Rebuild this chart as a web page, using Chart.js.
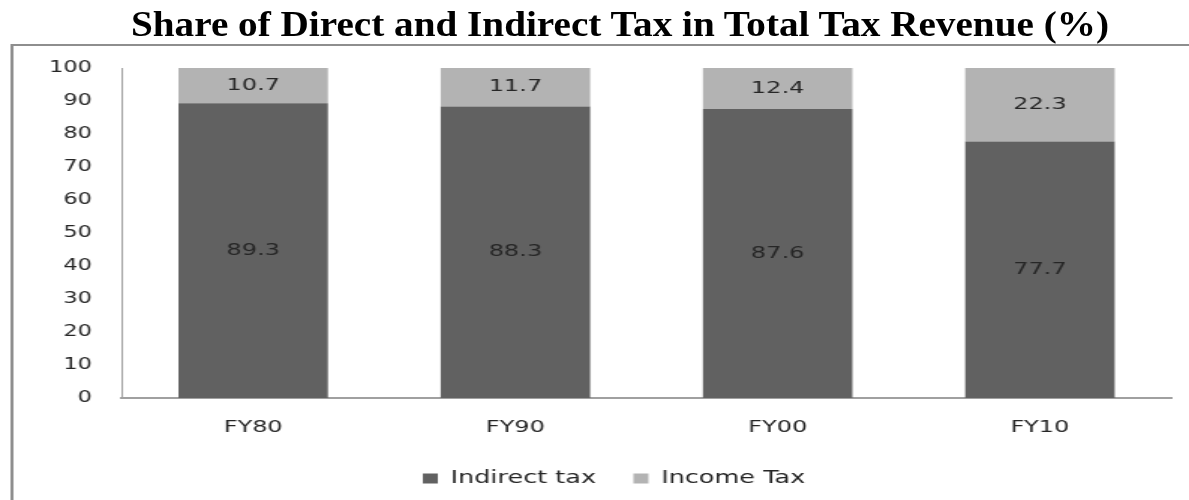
<!DOCTYPE html>
<html>
<head>
<meta charset="utf-8">
<title>Tax revenue shares</title>
<script src="https://cdn.jsdelivr.net/npm/chart.js@4/dist/chart.umd.min.js"></script>
<style>
  html, body { margin: 0; padding: 0; background: #fff; overflow: hidden; }
  #wrap { position: relative; width: 1189px; height: 500px; overflow: hidden; }
  #taxChart { position: absolute; left: 0; top: 0; }
  #heading {
    position: absolute; left: 0; top: 7px; width: 1240px;
    text-align: center; white-space: nowrap;
    font: bold 35px "Liberation Serif", serif; line-height: 35px; color: #000;
    transform: scaleX(1.12); transform-origin: 620px 0;
  }
</style>
</head>
<body>
<div id="wrap">
  <!-- the plot is drawn 793px wide and stretched out sideways to 1189px -->
  <canvas id="taxChart" width="793" height="500" style="width:1189px;height:500px"></canvas>
  <div id="heading">Share of Direct and Indirect Tax in Total Tax Revenue (%)</div>
</div>
<script>
const years = ['FY80', 'FY90', 'FY00', 'FY10'];
const indirectTax = [89.3, 88.3, 87.6, 77.7];
const incomeTax = [10.7, 11.7, 12.4, 22.3];

const darkGrey = '#616161';
const lightGrey = '#b3b3b3';

// white page plus the grey frame along the left and top
const frame = {
    id: 'frame',
    beforeDraw: (chart) => {
        const ctx = chart.ctx;
        ctx.save();
        ctx.fillStyle = '#fff';
        ctx.fillRect(0, 0, chart.width, chart.height);
        ctx.strokeStyle = '#8e8e8e';
        ctx.lineWidth = 2;
        ctx.beginPath();
        ctx.moveTo(8, chart.height + 5);
        ctx.lineTo(8, 45);
        ctx.lineTo(chart.width + 5, 45);
        ctx.stroke();
        ctx.restore();
    }
};

// legend sits a little right of the canvas centre
const legendShift = {
    id: 'legendShift',
    afterLayout: (chart) => {
        if (chart.legend) {
            chart.legend.left += 19;
            chart.legend.right += 19;
        }
    }
};

// value written in the middle of every bar segment
const barLabels = {
    id: 'barLabels',
    afterDatasetsDraw: (chart) => {
        const ctx = chart.ctx;
        ctx.save();
        ctx.font = '16px "DejaVu Sans"';
        ctx.fillStyle = '#262626';
        ctx.textAlign = 'center';
        ctx.textBaseline = 'middle';
        chart.data.datasets.forEach((ds, i) => {
            chart.getDatasetMeta(i).data.forEach((bar, j) => {
                const p = bar.getCenterPoint();
                ctx.fillText(ds.data[j].toFixed(1), p.x, p.y);
            });
        });
        ctx.restore();
    }
};

const ctx = document.getElementById('taxChart').getContext('2d');

new Chart(ctx, {
    type: 'bar',
    plugins: [frame, legendShift, barLabels],
    data: {
        labels: years,
        datasets: [{
            label: 'Indirect tax',
            data: indirectTax,
            backgroundColor: darkGrey,
            borderWidth: 0
        }, {
            label: 'Income Tax',
            data: incomeTax,
            backgroundColor: lightGrey,
            borderWidth: 0
        }]
    },
    options: {
        responsive: false,
        animation: false,
        devicePixelRatio: 1,
        layout: { padding: { top: 68, right: 12, bottom: 3, left: 0 } },
        datasets: { bar: { categoryPercentage: 1, barPercentage: 0.57 } },
        plugins: {
            title: { display: false },
            tooltip: { enabled: false },
            legend: {
                position: 'bottom',
                labels: {
                    boxWidth: 10,
                    boxHeight: 10,
                    padding: 25,
                    color: '#262626',
                    font: { family: 'DejaVu Sans', size: 17 }
                }
            }
        },
        scales: {
            x: {
                stacked: true,
                grid: { display: false, drawTicks: false },
                border: { display: true, color: '#a0a0a0', width: 2 },
                ticks: {
                    padding: 20,
                    color: '#262626',
                    font: { family: 'DejaVu Sans', size: 16 }
                },
                afterFit: (scale) => { scale.height = 47; }
            },
            y: {
                stacked: true,
                min: 0,
                max: 100,
                grid: { display: false, drawTicks: false },
                border: { display: true, color: '#a0a0a0', width: 1 },
                ticks: {
                    stepSize: 10,
                    padding: 20,
                    color: '#262626',
                    font: { family: 'DejaVu Sans', size: 15 }
                },
                afterFit: (scale) => { scale.width = 81.4; }
            }
        }
    }
});
</script>
</body>
</html>
